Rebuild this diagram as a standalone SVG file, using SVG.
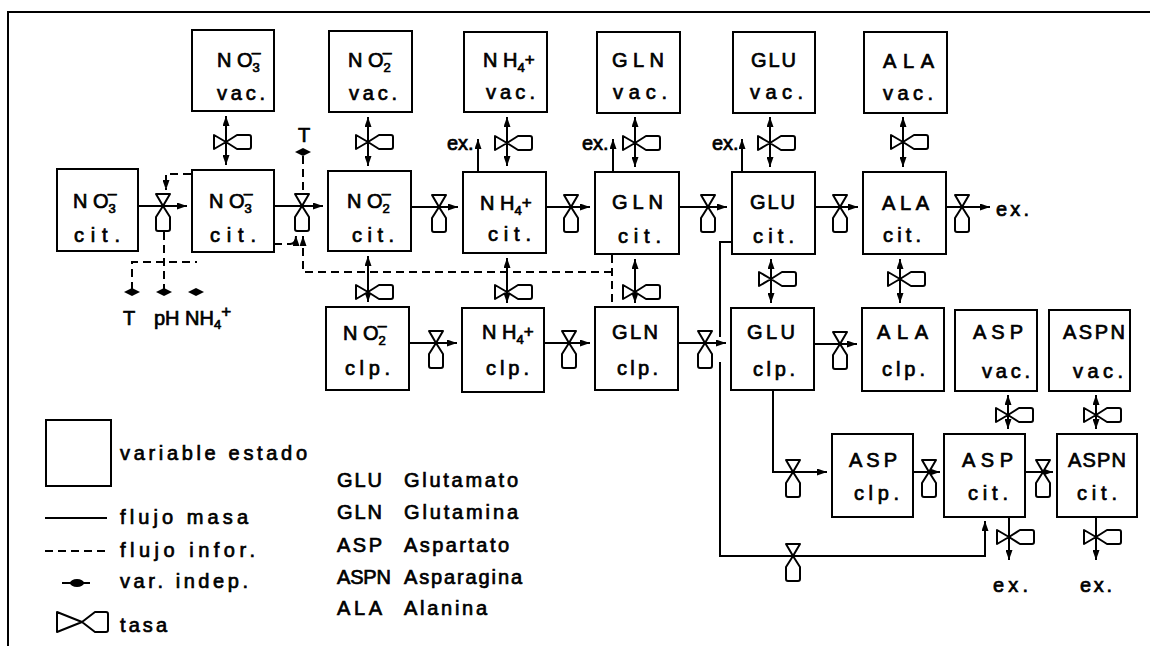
<svg xmlns="http://www.w3.org/2000/svg" xmlns:xlink="http://www.w3.org/1999/xlink" width="1150" height="646" viewBox="0 0 1150 646">
<style>
.box{fill:#fff;stroke:#000;stroke-width:2}
.ln{fill:none;stroke:#000;stroke-width:2}
.dl{fill:none;stroke:#000;stroke-width:2;stroke-dasharray:8 5}
.vl{fill:#fff;stroke:#000;stroke-width:2;stroke-linejoin:round}
.t{font-family:"Liberation Sans",Arial,sans-serif;font-size:20px;fill:#000;stroke:#000;stroke-width:0.7}
.s{font-size:13px}
.d{fill:#000}
</style>
<defs>
<marker id="ah" viewBox="0 0 10 7" refX="10" refY="3.5" markerWidth="10" markerHeight="7" markerUnits="userSpaceOnUse" orient="auto-start-reverse"><path d="M0,0 L10,3.5 L0,7 Z" fill="#000"/></marker>
<path id="vh" d="M-12,-7 L-12,7 L0,0 Z M0,0 L11,-7 L23,-7 Q25,-7 25,-5 L25,5 Q25,7 23,7 L11,7 Z"/>
<path id="vv" d="M-7,-12 L7,-12 L0,0 Z M0,0 L7,11 L7,23 Q7,25 5,25 L-5,25 Q-7,25 -7,23 L-7,11 Z"/>
<path id="dot" d="M-8,0 L0,-4 L8,0 L0,4 Z"/>
</defs>
<rect width="1150" height="646" fill="#fff"/>
<g id="frame"><path class="ln" d="M8,646 V12 H1150" stroke-width="2.5"/></g>

<g id="connectors">
<!-- horizontal flows, cit row -->
<path class="ln" marker-end="url(#ah)" d="M138,206 H187"/>
<path class="ln" marker-end="url(#ah)" d="M274,206 H323"/>
<path class="ln" marker-end="url(#ah)" d="M411,207 H458"/>
<path class="ln" marker-end="url(#ah)" d="M546,207 H590"/>
<path class="ln" marker-end="url(#ah)" d="M679,207 H727"/>
<path class="ln" marker-end="url(#ah)" d="M815,207 H858"/>
<path class="ln" marker-end="url(#ah)" d="M946,207 H990"/>
<!-- clp row -->
<path class="ln" marker-end="url(#ah)" d="M409,343 H457"/>
<path class="ln" marker-end="url(#ah)" d="M544,343 H590"/>
<path class="ln" marker-end="url(#ah)" d="M678,343 H726"/>
<path class="ln" marker-end="url(#ah)" d="M814,344 H857"/>
<path class="ln" marker-end="url(#ah)" d="M773,390 V472 H827"/>
<path class="ln" marker-end="url(#ah)" d="M913,472 H940"/>
<path class="ln" marker-end="url(#ah)" d="M1025,472 H1053"/>
<path class="ln" d="M732,242 H720 V337"/>
<path class="ln" marker-end="url(#ah)" d="M720,362 V556 H985 V521"/>
<!-- vac/cit exchanges -->
<path class="ln" marker-start="url(#ah)" marker-end="url(#ah)" d="M226,116 V165"/>
<path class="ln" marker-start="url(#ah)" marker-end="url(#ah)" d="M368,117 V166"/>
<path class="ln" marker-start="url(#ah)" marker-end="url(#ah)" d="M507,117 V166"/>
<path class="ln" marker-start="url(#ah)" marker-end="url(#ah)" d="M635,117 V167"/>
<path class="ln" marker-start="url(#ah)" marker-end="url(#ah)" d="M770,117 V167"/>
<path class="ln" marker-start="url(#ah)" marker-end="url(#ah)" d="M903,117 V167"/>
<!-- cit/clp exchanges -->
<path class="ln" marker-start="url(#ah)" marker-end="url(#ah)" d="M368,256 V302"/>
<path class="ln" marker-start="url(#ah)" marker-end="url(#ah)" d="M507,258 V303"/>
<path class="ln" marker-start="url(#ah)" marker-end="url(#ah)" d="M635,259 V303"/>
<path class="ln" marker-start="url(#ah)" marker-end="url(#ah)" d="M771,259 V303"/>
<path class="ln" marker-start="url(#ah)" marker-end="url(#ah)" d="M900,259 V303"/>
<path class="ln" marker-start="url(#ah)" marker-end="url(#ah)" d="M1008,395 V429"/>
<path class="ln" marker-start="url(#ah)" marker-end="url(#ah)" d="M1096,395 V429"/>
<!-- excretion -->
<path class="ln" marker-end="url(#ah)" d="M1009,517 V560"/>
<path class="ln" marker-end="url(#ah)" d="M1096,517 V560"/>
<path class="ln" marker-end="url(#ah)" d="M478,172 V139"/>
<path class="ln" marker-end="url(#ah)" d="M613,172 V139"/>
<path class="ln" marker-end="url(#ah)" d="M742,172 V139"/>
<!-- information flows -->
<path class="dl" marker-end="url(#ah)" d="M191,174 H166 V190"/>
<path class="dl" d="M164,232 V290"/>
<path class="dl" d="M132,290 V262 H197"/>
<path class="dl" d="M303,156 V193"/>
<path class="dl" d="M274,244 H291"/>
<path class="ln" marker-end="url(#ah)" d="M290,244 Q296,244 296,236"/>
<path class="dl" d="M612,255 V307"/>
<path class="dl" marker-end="url(#ah)" d="M612,272 H303 V236"/>
<!-- rate symbols (valves) -->
<g class="vl">
<use href="#vv" x="163" y="206"/>
<use href="#vv" x="302" y="206"/>
<use href="#vv" x="439" y="207"/>
<use href="#vv" x="571" y="207"/>
<use href="#vv" x="708" y="207"/>
<use href="#vv" x="840" y="207"/>
<use href="#vv" x="962" y="207"/>
<use href="#vv" x="436" y="343"/>
<use href="#vv" x="569" y="343"/>
<use href="#vv" x="705" y="343"/>
<use href="#vv" x="840" y="344"/>
<use href="#vv" x="793" y="472"/>
<use href="#vv" x="929" y="472"/>
<use href="#vv" x="1043" y="472"/>
<use href="#vv" x="793" y="556"/>
<use href="#vh" x="226" y="142"/>
<use href="#vh" x="368" y="142"/>
<use href="#vh" x="507" y="143"/>
<use href="#vh" x="635" y="143"/>
<use href="#vh" x="770" y="143"/>
<use href="#vh" x="903" y="142"/>
<use href="#vh" x="368" y="292"/>
<use href="#vh" x="507" y="292"/>
<use href="#vh" x="635" y="292"/>
<use href="#vh" x="771" y="279"/>
<use href="#vh" x="900" y="279"/>
<use href="#vh" x="1008" y="415"/>
<use href="#vh" x="1096" y="415"/>
<use href="#vh" x="1009" y="537"/>
<use href="#vh" x="1096" y="537"/>
</g>
<!-- independent variables -->
<g class="d">
<use href="#dot" x="132" y="292"/>
<use href="#dot" x="164" y="292"/>
<use href="#dot" x="196" y="292"/>
<use href="#dot" x="303" y="152"/>
</g>
<text class="t" x="123" y="325">T</text>
<text class="t" x="154" y="325">pH</text>
<text class="t" x="185" y="325">NH<tspan class="s" dy="4">4</tspan><tspan font-size="17" dy="-12">+</tspan></text>
<text class="t" x="298" y="142">T</text>
<text class="t" x="447" y="150">ex.</text>
<text class="t" x="582" y="150">ex.</text>
<text class="t" x="712" y="150">ex.</text>
<text class="t" x="996" y="216" textLength="33" lengthAdjust="spacing">ex.</text>
<text class="t" x="993" y="592" textLength="35" lengthAdjust="spacing">ex.</text>
<text class="t" x="1080" y="592" textLength="32" lengthAdjust="spacing">ex.</text>
</g>

<g id="no3_cit0"><rect class="box" x="57" y="169" width="81" height="82"/>
<text class="t" x="73" y="208">N O<tspan class="s" dy="5">3</tspan><tspan font-size="16" dx="-8" dy="-14">–</tspan></text>
<text class="t" x="74" y="242" textLength="46" lengthAdjust="spacing">cit.</text></g>

<g id="no3_vac"><rect class="box" x="192" y="30" width="82" height="81"/>
<text class="t" x="217" y="67">N O<tspan class="s" dy="5">3</tspan><tspan font-size="16" dx="-8" dy="-14">–</tspan></text>
<text class="t" x="217" y="100" textLength="48" lengthAdjust="spacing">vac.</text></g>

<g id="no3_cit"><rect class="box" x="192" y="170" width="82" height="82"/>
<text class="t" x="209" y="208">N O<tspan class="s" dy="5">3</tspan><tspan font-size="16" dx="-8" dy="-14">–</tspan></text>
<text class="t" x="210" y="242" textLength="46" lengthAdjust="spacing">cit.</text></g>

<g id="no2_vac"><rect class="box" x="329" y="31" width="83" height="81"/>
<text class="t" x="348" y="67">N O<tspan class="s" dy="5">2</tspan><tspan font-size="16" dx="-8" dy="-14">–</tspan></text>
<text class="t" x="349" y="100" textLength="48" lengthAdjust="spacing">vac.</text></g>

<g id="no2_cit"><rect class="box" x="328" y="171" width="83" height="80"/>
<text class="t" x="347" y="208">N O<tspan class="s" dy="5">2</tspan><tspan font-size="16" dx="-8" dy="-14">–</tspan></text>
<text class="t" x="352" y="242" textLength="42" lengthAdjust="spacing">cit.</text></g>

<g id="no2_clp"><rect class="box" x="326" y="307" width="83" height="83"/>
<text class="t" x="343" y="340">N O<tspan class="s" dy="5">2</tspan><tspan font-size="16" dx="-8" dy="-14">–</tspan></text>
<text class="t" x="345" y="375" textLength="45" lengthAdjust="spacing">clp.</text></g>

<g id="nh4_vac"><rect class="box" x="464" y="32" width="83" height="80"/>
<text class="t" x="483" y="67">N H<tspan class="s" dy="5">4</tspan><tspan font-size="17" dy="-7">+</tspan></text>
<text class="t" x="486" y="99" textLength="49" lengthAdjust="spacing">vac.</text></g>

<g id="nh4_cit"><rect class="box" x="463" y="172" width="83" height="81"/>
<text class="t" x="480" y="210">N H<tspan class="s" dy="5">4</tspan><tspan font-size="17" dy="-7">+</tspan></text>
<text class="t" x="488" y="241" textLength="43" lengthAdjust="spacing">cit.</text></g>

<g id="nh4_clp"><rect class="box" x="462" y="308" width="82" height="84"/>
<text class="t" x="482" y="339">N H<tspan class="s" dy="5">4</tspan><tspan font-size="17" dy="-7">+</tspan></text>
<text class="t" x="486" y="375" textLength="43" lengthAdjust="spacing">clp.</text></g>

<g id="gln_vac"><rect class="box" x="597" y="32" width="83" height="81"/>
<text class="t" x="612" y="67" textLength="52" lengthAdjust="spacing">GLN</text>
<text class="t" x="613" y="99" textLength="54" lengthAdjust="spacing">vac.</text></g>

<g id="gln_cit"><rect class="box" x="595" y="172" width="84" height="82"/>
<text class="t" x="612" y="209" textLength="51" lengthAdjust="spacing">GLN</text>
<text class="t" x="618" y="243" textLength="43" lengthAdjust="spacing">cit.</text></g>

<g id="gln_clp"><rect class="box" x="595" y="307" width="83" height="83"/>
<text class="t" x="612" y="339" textLength="46" lengthAdjust="spacing">GLN</text>
<text class="t" x="617" y="375" textLength="41" lengthAdjust="spacing">clp.</text></g>

<g id="glu_vac"><rect class="box" x="733" y="32" width="82" height="81"/>
<text class="t" x="751" y="67" textLength="45" lengthAdjust="spacing">GLU</text>
<text class="t" x="750" y="99" textLength="53" lengthAdjust="spacing">vac.</text></g>

<g id="glu_cit"><rect class="box" x="732" y="172" width="83" height="82"/>
<text class="t" x="750" y="209" textLength="45" lengthAdjust="spacing">GLU</text>
<text class="t" x="753" y="243" textLength="41" lengthAdjust="spacing">cit.</text></g>

<g id="glu_clp"><rect class="box" x="731" y="308" width="83" height="82"/>
<text class="t" x="747" y="339" textLength="48" lengthAdjust="spacing">GLU</text>
<text class="t" x="753" y="376" textLength="42" lengthAdjust="spacing">clp.</text></g>

<g id="ala_vac"><rect class="box" x="864" y="32" width="83" height="81"/>
<text class="t" x="883" y="68" textLength="51" lengthAdjust="spacing">ALA</text>
<text class="t" x="883" y="100" textLength="50" lengthAdjust="spacing">vac.</text></g>

<g id="ala_cit"><rect class="box" x="863" y="172" width="83" height="82"/>
<text class="t" x="882" y="210" textLength="47" lengthAdjust="spacing">ALA</text>
<text class="t" x="883" y="242" textLength="38" lengthAdjust="spacing">cit.</text></g>

<g id="ala_clp"><rect class="box" x="862" y="308" width="82" height="83"/>
<text class="t" x="877" y="339" textLength="51" lengthAdjust="spacing">ALA</text>
<text class="t" x="882" y="376" textLength="43" lengthAdjust="spacing">clp.</text></g>

<g id="asp_vac"><rect class="box" x="955" y="310" width="82" height="81"/>
<text class="t" x="973" y="339" textLength="50" lengthAdjust="spacing">ASP</text>
<text class="t" x="982" y="378" textLength="48" lengthAdjust="spacing">vac.</text></g>

<g id="aspn_vac"><rect class="box" x="1049" y="310" width="81" height="81"/>
<text class="t" x="1063" y="339" textLength="62" lengthAdjust="spacing">ASPN</text>
<text class="t" x="1073" y="378" textLength="50" lengthAdjust="spacing">vac.</text></g>

<g id="asp_clp"><rect class="box" x="832" y="434" width="81" height="83"/>
<text class="t" x="849" y="467" textLength="48" lengthAdjust="spacing">ASP</text>
<text class="t" x="854" y="500" textLength="45" lengthAdjust="spacing">clp.</text></g>

<g id="asp_cit"><rect class="box" x="944" y="434" width="81" height="83"/>
<text class="t" x="962" y="467" textLength="51" lengthAdjust="spacing">ASP</text>
<text class="t" x="968" y="500" textLength="40" lengthAdjust="spacing">cit.</text></g>

<g id="aspn_cit"><rect class="box" x="1057" y="434" width="80" height="83"/>
<text class="t" x="1068" y="467" textLength="58" lengthAdjust="spacing">ASPN</text>
<text class="t" x="1077" y="500" textLength="40" lengthAdjust="spacing">cit.</text></g>

<g id="legend">
<rect class="box" x="46" y="420" width="65" height="66"/>
<text class="t" x="120" y="460" textLength="187" lengthAdjust="spacing">variable estado</text>
<path class="ln" d="M45,518 H107"/>
<text class="t" x="120" y="524" textLength="128" lengthAdjust="spacing">flujo masa</text>
<path class="dl" d="M45,551 H107" stroke-dasharray="7 4"/>
<text class="t" x="120" y="557" textLength="135" lengthAdjust="spacing">flujo infor.</text>
<path class="ln" d="M62,583 H90"/>
<ellipse class="d" cx="77" cy="583" rx="7" ry="4"/>
<text class="t" x="120" y="588" textLength="128" lengthAdjust="spacing">var. indep.</text>
<path class="vl" d="M57,612 L57,632 L82,622 Z M82,622 L95,612 L106,612 Q108,612 108,614 L108,630 Q108,632 106,632 L95,632 Z"/>
<text class="t" x="120" y="632" textLength="47" lengthAdjust="spacing">tasa</text>
</g>

<g id="abbreviations">
<text class="t" x="337" y="487" textLength="45" lengthAdjust="spacing">GLU</text>
<text class="t" x="404" y="487" textLength="114" lengthAdjust="spacing">Glutamato</text>
<text class="t" x="337" y="519" textLength="45" lengthAdjust="spacing">GLN</text>
<text class="t" x="404" y="519" textLength="114" lengthAdjust="spacing">Glutamina</text>
<text class="t" x="337" y="552" textLength="45" lengthAdjust="spacing">ASP</text>
<text class="t" x="404" y="552" textLength="105" lengthAdjust="spacing">Aspartato</text>
<text class="t" x="337" y="584" textLength="54" lengthAdjust="spacing">ASPN</text>
<text class="t" x="404" y="584" textLength="118" lengthAdjust="spacing">Asparagina</text>
<text class="t" x="337" y="615" textLength="45" lengthAdjust="spacing">ALA</text>
<text class="t" x="404" y="615" textLength="83" lengthAdjust="spacing">Alanina</text>
</g>
</svg>
